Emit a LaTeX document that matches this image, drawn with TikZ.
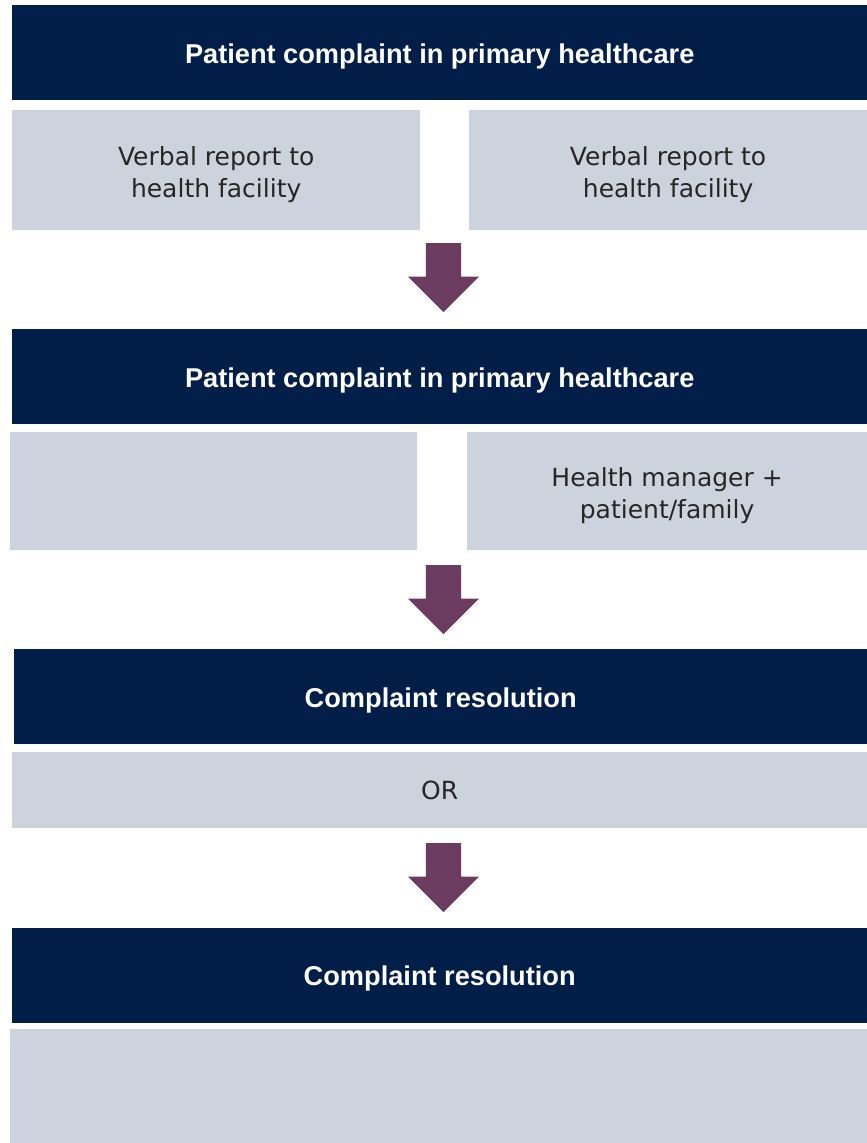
\documentclass[tikz,border=0pt]{standalone}
\usepackage{fontspec}
\setmainfont{DejaVu Sans}
\newfontfamily\headfont{Liberation Sans}
\usetikzlibrary{shapes,arrows,positioning}
\definecolor{navy}{HTML}{001E48}
\definecolor{paleblue}{HTML}{CCD3DC}
\definecolor{plum}{HTML}{6B3C60}
\newcommand{\padtop}{\rule{0pt}{28pt}}
\tikzstyle{header} = [rectangle, fill=navy, text=white, inner sep=0pt,
    font=\headfont\bfseries\fontsize{27.2}{32}\selectfont,
    text height=21.5pt, text depth=0pt,
    minimum width=855pt, minimum height=95pt]
\tikzstyle{panel} = [rectangle, fill=paleblue, text=black!85, inner sep=0pt,
    font=\fontsize{25}{32}\selectfont, align=center]
\tikzstyle{downarrow} = [single arrow, fill=plum, rotate=-90, inner sep=0pt,
    inner ysep=17.5pt, single arrow head extend=18pt,
    minimum height=69pt, minimum width=71pt]

\begin{document}
\begin{tikzpicture}[x=1pt, y=-1pt]
    \useasboundingbox (0,0) rectangle (867,1143);
    % Place nodes
    \node [header, anchor=north west] (head1) at (12,5) {Patient complaint in primary healthcare};
    \node [panel, below=9pt of head1.south west, anchor=north west,
        minimum width=408pt, minimum height=120pt] (verbalL) {\padtop Verbal report to\\health facility};
    \node [panel, right=48pt of verbalL.north east, anchor=north west,
        minimum width=399pt, minimum height=120pt] (verbalR) {\padtop Verbal report to\\health facility};
    \node [downarrow, anchor=tail] (arrow1) at (443.5,243) {};
    \node [header, anchor=north west] (head2) at (12,329) {Patient complaint in primary healthcare};
    \node [panel, anchor=north west, minimum width=407pt, minimum height=118pt] (emptyL) at (10,432) {};
    \node [panel, right=49pt of emptyL.north east, anchor=north west,
        minimum width=401pt, minimum height=118pt] (manager) {\padtop Health manager +\\patient/family};
    \node [downarrow, anchor=tail] (arrow2) at (443.5,565) {};
    \node [header, anchor=north west, minimum width=853pt] (head3) at (14,649) {Complaint resolution};
    \node [panel, anchor=north west, minimum width=855pt, minimum height=76pt] (orbox) at (12,752) {OR};
    \node [downarrow, anchor=tail] (arrow3) at (443.5,843) {};
    \node [header, below=183pt of head3.south west, anchor=north west, xshift=-2pt,
        minimum width=855pt] (head4) {Complaint resolution};
    \node [panel, below=6pt of head4.south west, anchor=north west, xshift=-2pt,
        minimum width=857pt, minimum height=114pt] (emptyB) {};
\end{tikzpicture}
\end{document}
